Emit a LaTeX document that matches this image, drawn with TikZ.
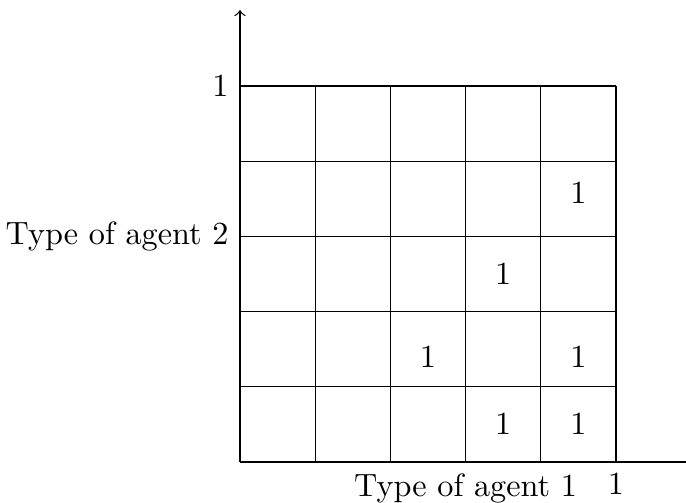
\documentclass[tikz,border=0pt]{standalone}
\usepackage{amsmath}
\usepackage{tikz}
\usetikzlibrary{positioning}

\begin{document}
\begin{tikzpicture}[x=0.82cm, y=0.82cm]
		\useasboundingbox (-3.191,-0.532) rectangle (5.931,6.144);
		\coordinate (O) at (0,0);
		\coordinate (ytop) at (0,6.01);
		\coordinate (xend) at (5.931,0);
		\draw[step=1] (0,0) grid (5,5);
		\draw[->] (O) -- (ytop);
		\draw (O) -- (xend);
		\node (ymax) at (0,5) [left] {$1$};
		\node (ylab) at (0,3) [left] {Type of agent 2};
		\node (xlab) at (3,0) [below] {Type of agent 1};
		\node (xmax) at (5,0) [below] {$1$};
		\node (c43) at (4.5,3.58) {$1$};
		\node (c32) at (3.5,2.5) {$1$};
		\node (c21) at (2.5,1.4) {$1$};
		\node (c41) at (4.5,1.4) {$1$};
		\node (c30) at (3.5,0.5) {$1$};
		\node (c40) at (4.5,0.5) {$1$};
\end{tikzpicture}
\end{document}
